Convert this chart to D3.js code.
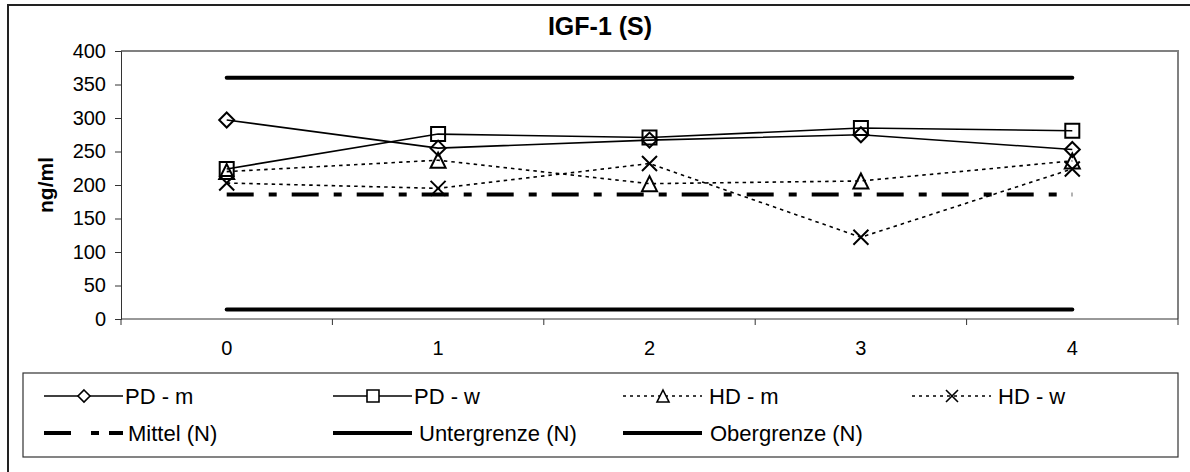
<!DOCTYPE html>
<html><head><meta charset="utf-8">
<script src="https://cdn.jsdelivr.net/npm/d3@7"></script>
<style>
html,body{margin:0;padding:0;background:#fff;}
svg{display:block;font-family:"Liberation Sans",Arial,sans-serif;}
</style></head>
<body><svg id="c" width="1190" height="472"></svg>
<script>
const categories = ["0","1","2","3","4"];
const pdM = [297, 255, 267, 275, 253];
const pdW = [224, 276, 271, 285, 281];
const hdM = [220, 237, 202, 206, 236];
const hdW = [203, 195, 232, 122, 224];
const mittel = [186, 186, 186, 186, 186];
const untergrenze = [14, 14, 14, 14, 14];
const obergrenze = [360, 360, 360, 360, 360];
const yTicks = [0, 50, 100, 150, 200, 250, 300, 350, 400];
const title = "IGF-1 (S)";
const yLabel = "ng/ml";

const FONT = "Liberation Sans, Arial, sans-serif";
const svg = d3.select("#c");
const L = 121, R = 1178, T = 51, B = 319;
const x = d3.scaleBand().domain(categories).range([L, R]).padding(0);
const xc = d => x(d) + x.bandwidth() / 2;
const y = d3.scaleLinear().domain([0, 400]).range([B, T]);

// outer frame (extends past the right/bottom edge as in the reference)
svg.append("rect").attr("x", 8).attr("y", 5).attr("width", 1200).attr("height", 480)
  .attr("fill", "#fff").attr("stroke", "#222").attr("stroke-width", 2);

// plot area border (gray top/right)
svg.append("path").attr("d", `M${L},${T}H${R}V${B}`).attr("fill", "none")
  .attr("stroke", "#808080").attr("stroke-width", 2);

// title
svg.append("text").attr("x", 600).attr("y", 35).attr("text-anchor", "middle")
  .attr("font-size", 25).attr("font-weight", "bold").text(title);

// y axis
const ya = svg.append("g").attr("transform", `translate(${L},0)`)
  .call(d3.axisLeft(y).tickValues(yTicks).tickSize(6).tickPadding(9));
ya.selectAll("path,line").attr("stroke", "#333");
ya.selectAll("text").attr("font-size", 20).attr("fill", "#000").attr("font-family", FONT);

svg.append("text").attr("transform", `translate(53,${(T + B) / 2}) rotate(-90)`)
  .attr("text-anchor", "middle").attr("font-size", 21).attr("font-weight", "bold").text(yLabel);

// x axis
const xa = svg.append("g").attr("transform", `translate(0,${B})`)
  .call(d3.axisBottom(x).tickSize(0).tickPadding(22));
xa.select("path").attr("stroke", "#333").attr("d", `M${L},0H${R}`);
xa.selectAll("text").attr("font-size", 20).attr("fill", "#000").attr("font-family", FONT);
const bounds = categories.map(d => x(d)).concat([R]);
xa.selectAll("line.bt").data(bounds).enter().append("line").attr("class", "bt")
  .attr("x1", d => d).attr("x2", d => d).attr("y1", 0).attr("y2", 6).attr("stroke", "#333");

// marker shapes
function marker(type, s) {
  switch (type) {
    case "diamond": return `M0,${-s}L${s},0L0,${s}L${-s},0Z`;
    case "square": return `M${-s},${-s}H${s}V${s}H${-s}Z`;
    case "triangle": return `M0,${-s}L${s},${s}H${-s}Z`;
    case "x": return `M${-s},${-s}L${s},${s}M${s},${-s}L${-s},${s}`;
  }
  return "";
}

const line = d3.line().x((d, i) => xc(categories[i])).y(d => y(d));

// reference lines
function refLine(vals, dash) {
  const p = svg.append("path").attr("d", line(vals)).attr("fill", "none")
    .attr("stroke", "#000").attr("stroke-width", 4);
  if (dash) p.attr("stroke-dasharray", dash);
  else p.attr("stroke-linecap", "round");
}
refLine(obergrenze, null);
refLine(untergrenze, null);
refLine(mittel, "27,15,8,15");

const series = [
  { name: "PD - m", vals: pdM, m: "diamond", s: 7.5, dash: null },
  { name: "PD - w", vals: pdW, m: "square", s: 7, dash: null },
  { name: "HD - m", vals: hdM, m: "triangle", s: 7.5, dash: "3.5,4" },
  { name: "HD - w", vals: hdW, m: "x", s: 7.5, dash: "3.5,4" },
];
series.forEach(sr => {
  const p = svg.append("path").attr("d", line(sr.vals)).attr("fill", "none")
    .attr("stroke", "#000").attr("stroke-width", 1.6);
  if (sr.dash) p.attr("stroke-dasharray", sr.dash);
});
series.forEach(sr => {
  svg.append("g").selectAll("path").data(sr.vals).enter().append("path")
    .attr("transform", (d, i) => `translate(${xc(categories[i])},${y(d)})`)
    .attr("d", marker(sr.m, sr.s)).attr("fill", "none").attr("stroke", "#000").attr("stroke-width", 2);
});

// legend
const lg = svg.append("g");
lg.append("rect").attr("x", 23).attr("y", 373).attr("width", R - 23).attr("height", 84)
  .attr("fill", "#fff").attr("stroke", "#333").attr("stroke-width", 1.2);
const colX = [44, 333, 623, 912];
const rowY = [396, 433];
const items = [
  { name: "PD - m", m: "diamond", dash: null, w: 1.6, tx: 81 },
  { name: "PD - w", m: "square", dash: null, w: 1.6, tx: 81 },
  { name: "HD - m", m: "triangle", dash: "3,4", w: 1.6, tx: 86 },
  { name: "HD - w", m: "x", dash: "3,4", w: 1.6, tx: 86 },
  { name: "Mittel (N)", m: null, dash: "27,20,8,10", w: 4, tx: 84 },
  { name: "Untergrenze (N)", m: null, dash: null, w: 4, tx: 86 },
  { name: "Obergrenze (N)", m: null, dash: null, w: 4, tx: 87 },
];
items.forEach((it, i) => {
  const cx = colX[i % 4], cy = rowY[Math.floor(i / 4)];
  const ln = lg.append("line").attr("x1", cx).attr("x2", cx + 79).attr("y1", cy).attr("y2", cy)
    .attr("stroke", "#000").attr("stroke-width", it.w);
  if (it.dash) ln.attr("stroke-dasharray", it.dash);
  if (it.m) lg.append("path").attr("transform", `translate(${cx + 40},${cy})`)
    .attr("d", marker(it.m, 6)).attr("fill", it.m === "x" ? "none" : "#fff").attr("stroke", "#000").attr("stroke-width", 1.6);
  lg.append("text").attr("x", cx + it.tx).attr("y", cy).attr("dy", "0.35em")
    .attr("font-size", 22).text(it.name);
});
</script></body></html>
